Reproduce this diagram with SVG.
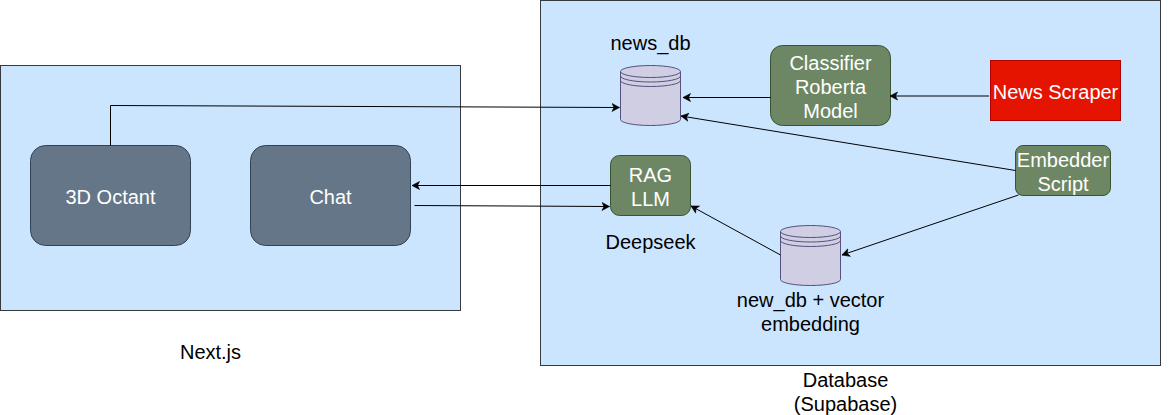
<svg xmlns="http://www.w3.org/2000/svg" width="1171" height="415" viewBox="0 0 1171 415">
<style>
text{font-family:"Liberation Sans",Arial,sans-serif;font-size:20px;text-anchor:middle}
.panel{fill:#cce5ff;stroke:#36393d;stroke-width:1}
.slate{fill:#647687;stroke:#314354;stroke-width:1}
.green{fill:#6d8764;stroke:#3a5431;stroke-width:1}
.db{fill:#d0cee2;stroke:#56517e;stroke-width:1}
.ring{fill:none;stroke:#56517e;stroke-width:1}
.w{fill:#ffffff}
.k{fill:#000000}
.c{fill:none;stroke:#000000;stroke-width:1;marker-end:url(#arrow)}
</style>
<defs>
<marker id="arrow" markerUnits="userSpaceOnUse" markerWidth="10" markerHeight="10" refX="8" refY="4.5" orient="auto">
<path d="M0.5,0.5 L8,4.5 L0.5,8.5 L2.5,4.5 Z" fill="#000000" stroke="#000000" stroke-width="0.6"/>
</marker>
</defs>
<g id="panel-nextjs"><rect class="panel" x="0.5" y="65.5" width="460" height="245"/><text class="k" x="210.5" y="359">Next.js</text></g>
<g id="panel-database"><rect class="panel" x="540.5" y="0.5" width="620" height="365"/><text class="k" x="845.5" y="387">Database</text><text class="k" x="845.5" y="411">(Supabase)</text></g>
<g id="octant"><rect class="slate" x="30.5" y="145.5" width="160" height="100" rx="15" ry="15"/><text class="w" x="110.5" y="204">3D Octant</text></g>
<g id="chat"><rect class="slate" x="250.5" y="145.5" width="160" height="100" rx="15" ry="15"/><text class="w" x="330.5" y="204">Chat</text></g>
<g id="news-db"><path class="db" d="M620.5,71.5 A30,6 0 0 1 680.5,71.5 V119.5 A30,6 0 0 1 620.5,119.5 Z"/><path class="ring" d="M620.5,71.5 A30,6 0 0 0 680.5,71.5 M620.5,76 A30,6 0 0 0 680.5,76 M620.5,80.5 A30,6 0 0 0 680.5,80.5"/><text class="k" x="650.5" y="50">news_db</text></g>
<g id="classifier"><rect class="green" x="770.5" y="45.5" width="120" height="80" rx="12" ry="12"/><text class="w" x="830.5" y="70">Classifier</text><text class="w" x="830.5" y="94">Roberta</text><text class="w" x="830.5" y="118">Model</text></g>
<g id="scraper"><rect x="990.5" y="60.5" width="130" height="60" fill="#e51400" stroke="#b20000"/><text class="w" x="1055.5" y="99">News Scraper</text></g>
<g id="embedder"><rect class="green" x="1015.5" y="145.5" width="95" height="50" rx="7.5" ry="7.5"/><text class="w" x="1063" y="167">Embedder</text><text class="w" x="1063" y="191">Script</text></g>
<g id="rag"><rect class="green" x="610.5" y="155.5" width="80" height="60" rx="9" ry="9"/><text class="w" x="650.5" y="182">RAG</text><text class="w" x="650.5" y="206">LLM</text><text class="k" x="650.5" y="249">Deepseek</text></g>
<g id="vector-db"><path class="db" d="M780.5,231.5 A30,6 0 0 1 840.5,231.5 V279.5 A30,6 0 0 1 780.5,279.5 Z"/><path class="ring" d="M780.5,231.5 A30,6 0 0 0 840.5,231.5 M780.5,236 A30,6 0 0 0 840.5,236 M780.5,240.5 A30,6 0 0 0 840.5,240.5"/><text class="k" x="810.5" y="307">new_db + vector</text><text class="k" x="810.5" y="331">embedding</text></g>
<g id="connectors">
<path class="c" d="M110.5,145.5 V105.5 L619.5,107.5"/>
<path class="c" d="M770.5,97.5 H683"/>
<path class="c" d="M989,96 H890"/>
<path class="c" d="M1015.5,170.5 L681,116"/>
<path class="c" d="M1018.5,195 L842,255"/>
<path class="c" d="M780.5,255 L691,206"/>
<path class="c" d="M610.5,185.5 H412"/>
<path class="c" d="M414.5,205.5 L609.5,206.5"/>
</g>
</svg>
